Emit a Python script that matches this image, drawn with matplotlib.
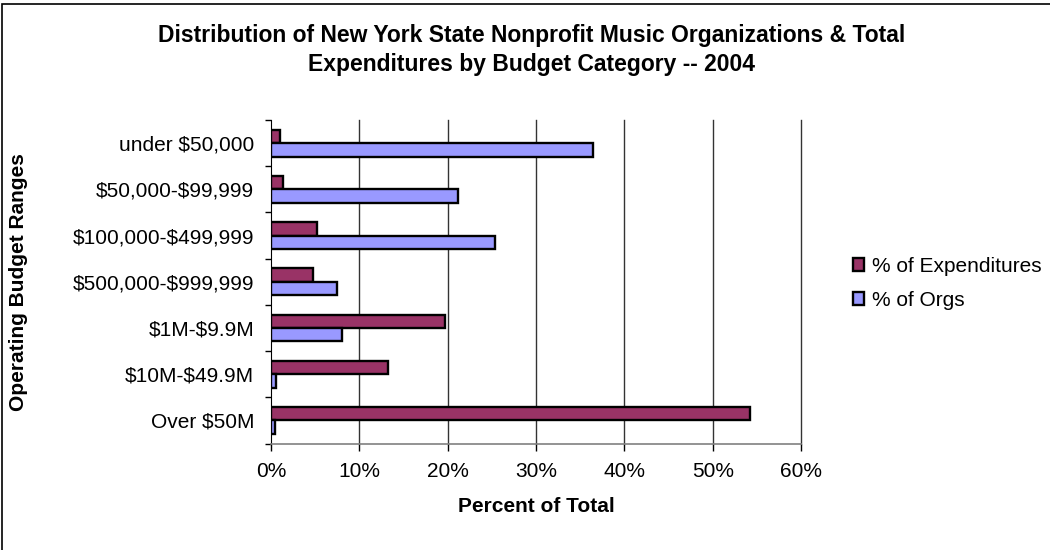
import numpy as np
import matplotlib.pyplot as plt
from matplotlib.patches import Rectangle

plt.rcParams['font.family'] = ['Liberation Sans', 'DejaVu Sans']
plt.rcParams['text.parse_math'] = False

categories = ["under $50,000", "$50,000-$99,999", "$100,000-$499,999",
              "$500,000-$999,999", "$1M-$9.9M", "$10M-$49.9M", "Over $50M"]
pct_expenditures = [1.05, 1.36, 5.24, 4.79, 19.7, 13.3, 54.2]
pct_orgs = [36.5, 21.2, 25.4, 7.5, 8.0, 0.6, 0.4]
xticks = [0, 10, 20, 30, 40, 50, 60]

fig = plt.figure(figsize=(10.5, 5.5), dpi=100)
ax = fig.add_axes([271 / 1050, 1 - 443.5 / 550, 530 / 1050, 323.5 / 550])

y = np.arange(len(categories))
h = 0.29
ax.barh(y - h / 2, pct_expenditures, height=h, color="#993366",
        edgecolor="black", linewidth=1.7, label="% of Expenditures", zorder=3)
ax.barh(y + h / 2, pct_orgs, height=h, color="#9999FF",
        edgecolor="black", linewidth=1.7, label="% of Orgs", zorder=3)

ax.set_ylim(len(categories) - 0.5, -0.5)
ax.set_xlim(0, 60)
ax.set_xticks(xticks)
ax.set_xticklabels([f"{v}%" for v in xticks])
ax.set_yticks(y)
ax.set_yticklabels(categories)
ax.set_yticks(np.arange(len(categories) + 1) - 0.5, minor=True)
ax.tick_params(axis="y", which="major", length=0, pad=12, labelsize=15)
ax.tick_params(axis="y", which="minor", length=4.5, width=1, direction="out")
ax.tick_params(axis="x", length=5, width=1, direction="out", pad=8, labelsize=15)

# vertical gridlines, including the one on the 60% edge
for v in xticks[1:]:
    ax.axvline(v, color="#333333", linewidth=1, zorder=0, clip_on=False)
for side in ("top", "right"):
    ax.spines[side].set_visible(False)
ax.spines["left"].set_color("black")
ax.spines["bottom"].set_color("#808080")
ax.spines["bottom"].set_linewidth(1.2)

ax.set_xlabel("Percent of Total", fontsize=15, fontweight="bold")
ax.xaxis.set_label_coords(0.5, (443.5 - 497) / 323.5)
ax.set_ylabel("Operating Budget Ranges", fontsize=15, fontweight="bold")
ax.yaxis.set_label_coords(-243 / 530, 0.5)

fig.text(532 / 1050, 1 - 50 / 550,
         "Distribution of New York State Nonprofit Music Organizations & Total\n"
         "Expenditures by Budget Category -- 2004", ha="center", va="center",
         fontsize=16.5, fontweight="bold", linespacing=1.3)

leg = fig.legend(loc="upper left", bbox_to_anchor=(853 / 1050, 1 - 257 / 550),
                 frameon=False, fontsize=15, handlelength=0.55, handleheight=0.55,
                 handletextpad=0.35, labelspacing=0.72, borderaxespad=0,
                 borderpad=0)

fig.patches.append(Rectangle((2 / 1050, -0.1), 1.2, 1 - 4 / 550 + 0.1,
                             transform=fig.transFigure, fill=False,
                             edgecolor="black", linewidth=1.2))

fig.savefig("out.png", dpi=100)
